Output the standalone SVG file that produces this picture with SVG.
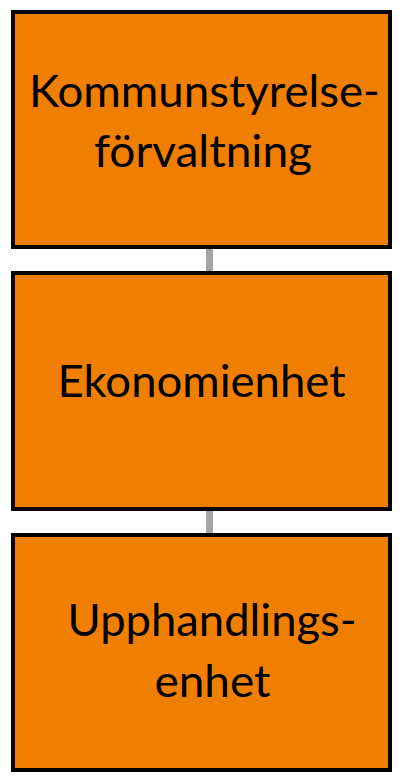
<svg xmlns="http://www.w3.org/2000/svg" width="405" height="782" viewBox="0 0 405 782">
<style>
.box{fill:#F07F00;stroke:#000;stroke-width:4}
.lbl{font-family:Lato,"Open Sans","Liberation Sans",sans-serif;font-size:44px;fill:#000;text-anchor:middle}
.conn{stroke:#A5A5A5;stroke-width:7;fill:none}
</style>
<rect width="405" height="782" fill="#fff"/>
<g id="connectors">
<line class="conn" x1="209.5" y1="249" x2="209.5" y2="271"/>
<line class="conn" x1="209.5" y1="511" x2="209.5" y2="533"/>
</g>
<g id="node-kommunstyrelse">
<rect class="box" x="13" y="12" width="377" height="235"/>
<text class="lbl" x="204.5" y="106.5" textLength="351" lengthAdjust="spacingAndGlyphs">Kommunstyrelse-</text>
<text class="lbl" x="203" y="167" textLength="218" lengthAdjust="spacingAndGlyphs">förvaltning</text>
</g>
<g id="node-ekonomienhet">
<rect class="box" x="13" y="273" width="377" height="236"/>
<text class="lbl" x="201.5" y="397" textLength="288" lengthAdjust="spacingAndGlyphs">Ekonomienhet</text>
</g>
<g id="node-upphandlingsenhet">
<rect class="box" x="13" y="535" width="377" height="235"/>
<text class="lbl" x="212" y="636" textLength="289" lengthAdjust="spacingAndGlyphs">Upphandlings-</text>
<text class="lbl" x="212.5" y="696.5" textLength="116" lengthAdjust="spacingAndGlyphs">enhet</text>
</g>
</svg>
